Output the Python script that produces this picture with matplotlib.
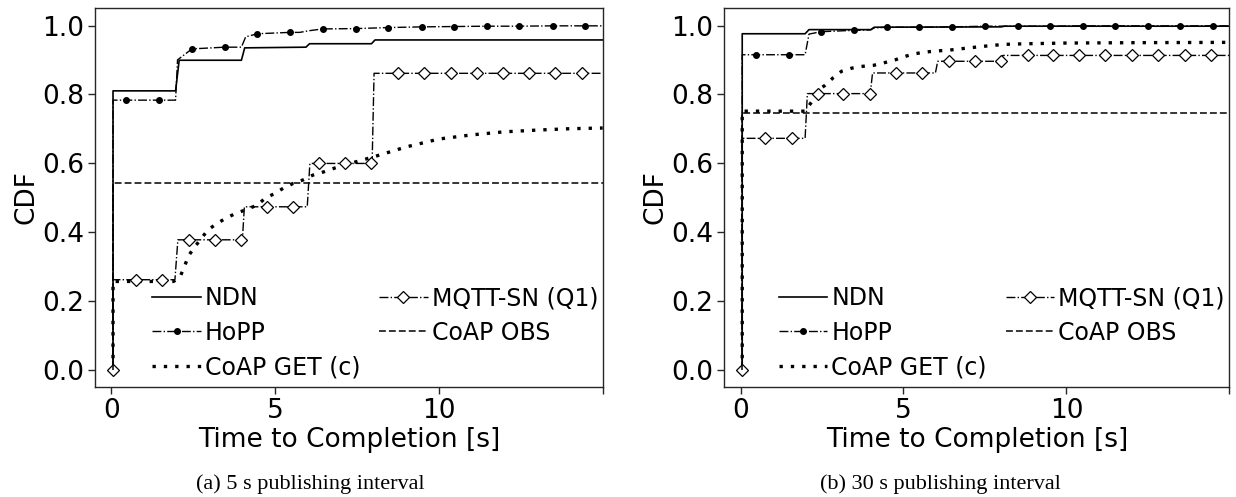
import matplotlib
matplotlib.use("Agg")
import matplotlib.pyplot as plt
from matplotlib.lines import Line2D

# ---- data (time in s, CDF) ----
# (a) 5 s publishing interval
ndn5_x = [0.05, 0.05, 1.96, 2.07, 3.97, 4.07, 5.94, 6.05, 7.94, 8.05, 15.0]
ndn5_y = [0.0, 0.81, 0.81, 0.899, 0.899, 0.935, 0.937, 0.947, 0.947, 0.958, 0.958]

hopp5_x = [0.05, 0.05, 0.46, 1.45, 1.96, 2.02, 2.46, 3.46, 3.97, 4.1, 4.46, 5.45,
           5.75, 6.05, 6.45, 7.46, 8.45, 9.47, 10.46, 11.46, 12.45, 13.47, 14.47, 15.0]
hopp5_y = [0.0, 0.783, 0.783, 0.783, 0.783, 0.90, 0.932, 0.937, 0.937, 0.967, 0.976, 0.980,
           0.980, 0.985, 0.990, 0.991, 0.994, 0.996, 0.997, 0.998, 0.998, 0.999, 0.999, 0.999]
hopp5_mx = [0.05, 0.46, 1.45, 2.46, 3.46, 4.46, 5.45, 6.45, 7.46, 8.45, 9.47, 10.46,
            11.46, 12.45, 13.47, 14.47]
hopp5_my = [0.0, 0.783, 0.783, 0.932, 0.937, 0.976, 0.980, 0.990, 0.991, 0.994, 0.996,
            0.997, 0.998, 0.998, 0.999, 0.999]

mqtt5_x = [0.05, 0.05, 1.94, 2.03, 4.0, 4.06, 5.98, 6.06, 7.96, 8.02, 15.0]
mqtt5_y = [0.0, 0.261, 0.261, 0.377, 0.377, 0.473, 0.473, 0.599, 0.599, 0.861, 0.861]
mqtt5_mx = [0.05, 0.76, 1.56, 2.36, 3.16, 3.97, 4.76, 5.55, 6.34, 7.13, 7.94, 8.74,
            9.55, 10.37, 11.15, 11.97, 12.76, 13.54, 14.36]
mqtt5_my = [0.0, 0.261, 0.261, 0.377, 0.377, 0.377, 0.473, 0.473, 0.599, 0.599, 0.599,
            0.861, 0.861, 0.861, 0.861, 0.861, 0.861, 0.861, 0.861]

obs5_x = [0.05, 0.05, 15.0]
obs5_y = [0.0, 0.541, 0.541]

get5_x = [0.05, 0.05, 1.9, 2.1, 2.25, 2.35, 2.55, 2.95, 3.2, 3.5, 3.8, 4.1, 4.45, 4.7,
          4.95, 5.25, 5.55, 5.85, 6.15, 6.5, 6.8, 7.1, 8.0, 9.0, 10.0, 11.0, 12.0,
          13.0, 14.0, 15.0]
get5_y = [0.0, 0.256, 0.256, 0.27, 0.304, 0.33, 0.357, 0.406, 0.423, 0.44, 0.454, 0.464,
          0.478, 0.498, 0.51, 0.527, 0.541, 0.551, 0.565, 0.575, 0.585, 0.594, 0.618,
          0.647, 0.67, 0.682, 0.691, 0.696, 0.70, 0.702]

# (b) 30 s publishing interval
ndn30_x = [0.05, 0.05, 1.98, 2.1, 4.0, 4.1, 8.0, 8.1, 15.0]
ndn30_y = [0.0, 0.976, 0.976, 0.988, 0.988, 0.995, 0.996, 0.998, 0.998]

hopp30_x = [0.05, 0.05, 0.46, 1.48, 1.98, 2.1, 2.47, 3.49, 3.98, 4.1, 4.48, 5.48, 6.5,
            7.5, 8.5, 9.5, 10.5, 11.5, 12.5, 13.5, 14.5, 15.0]
hopp30_y = [0.0, 0.915, 0.915, 0.915, 0.915, 0.975, 0.982, 0.986, 0.987, 0.993, 0.995,
            0.995, 0.996, 0.998, 0.998, 0.998, 0.999, 0.999, 0.999, 0.999, 0.999, 0.999]
hopp30_mx = [0.05, 0.46, 1.48, 2.47, 3.49, 4.48, 5.48, 6.5, 7.5, 8.5, 9.5, 10.5, 11.5,
             12.5, 13.5, 14.5]
hopp30_my = [0.0, 0.915, 0.915, 0.982, 0.986, 0.995, 0.995, 0.996, 0.998, 0.998, 0.998,
             0.999, 0.999, 0.999, 0.999, 0.999]

mqtt30_x = [0.05, 0.05, 1.98, 2.05, 3.98, 4.05, 5.98, 6.05, 7.98, 8.05, 15.0]
mqtt30_y = [0.0, 0.672, 0.672, 0.802, 0.802, 0.862, 0.862, 0.896, 0.896, 0.913, 0.913]
mqtt30_mx = [0.05, 0.75, 1.57, 2.38, 3.15, 3.97, 4.77, 5.57, 6.39, 7.19, 7.98, 8.81,
             9.59, 10.39, 11.2, 12.01, 12.81, 13.63, 14.43]
mqtt30_my = [0.0, 0.672, 0.672, 0.802, 0.802, 0.802, 0.862, 0.862, 0.896, 0.896, 0.896,
             0.913, 0.913, 0.913, 0.913, 0.913, 0.913, 0.913, 0.913]

obs30_x = [0.05, 0.05, 15.0]
obs30_y = [0.0, 0.746, 0.746]

get30_x = [0.05, 0.05, 1.98, 2.18, 2.38, 2.59, 2.84, 3.1, 3.41, 3.71, 4.07, 4.38, 4.74,
           5.04, 5.35, 5.7, 6.0, 6.36, 6.73, 7.4, 8.06, 8.77, 10.0, 12.0, 15.0]
get30_y = [0.0, 0.751, 0.751, 0.778, 0.812, 0.826, 0.848, 0.867, 0.876, 0.881, 0.884,
           0.891, 0.90, 0.91, 0.918, 0.923, 0.926, 0.928, 0.932, 0.939, 0.945, 0.947,
           0.949, 0.950, 0.951]

xticks = [0, 5, 10, 15]
xticklabels = ["0", "5", "10", ""]
yticks = [0.0, 0.2, 0.4, 0.6, 0.8, 1.0]
captions = ["(a) 5 s publishing interval", "(b) 30 s publishing interval"]

panels = [
    (ndn5_x, ndn5_y, hopp5_x, hopp5_y, hopp5_mx, hopp5_my, get5_x, get5_y,
     mqtt5_x, mqtt5_y, mqtt5_mx, mqtt5_my, obs5_x, obs5_y),
    (ndn30_x, ndn30_y, hopp30_x, hopp30_y, hopp30_mx, hopp30_my, get30_x, get30_y,
     mqtt30_x, mqtt30_y, mqtt30_mx, mqtt30_my, obs30_x, obs30_y),
]

# ---- styles ----
INK = "0.15"
st_ndn = dict(color="black", lw=1.2, ls="-")
st_hopp = dict(color="black", lw=1.0, ls="-.")
st_hopp_m = dict(marker="o", ms=4, mfc="black", mec="black")
st_get = dict(color="black", lw=2.4, ls=(0, (1, 2.4)))
st_mqtt = dict(color="black", lw=1.0, ls="-.")
st_mqtt_m = dict(marker="D", ms=5.8, mfc="white", mec="black", mew=0.9)
st_obs = dict(color="black", lw=1.1, ls=(0, (4.5, 2.0)))

fig = plt.figure(figsize=(12.36, 4.97), dpi=100)
W, H = 1236.0, 497.0
axes_px = [(95, 602.7), (724.3, 1229.3)]
cap_x = [310, 940]
top_px, bot_px = 8.3, 386.7

for i, data in enumerate(panels):
    (nx, ny, hx, hy, hmx, hmy, gx, gy, mx, my, mmx, mmy, ox, oy) = data
    x0, x1 = axes_px[i]
    ax = fig.add_axes([x0 / W, 1 - bot_px / H, (x1 - x0) / W, (bot_px - top_px) / H])

    ax.plot(nx, ny, **st_ndn)
    ax.plot(hx, hy, **st_hopp)
    ax.plot(hmx, hmy, ls="none", **st_hopp_m)
    ax.plot(gx, gy, solid_capstyle="butt", **st_get)
    ax.plot(mx, my, **st_mqtt)
    ax.plot(mmx, mmy, ls="none", **st_mqtt_m)
    ax.plot(ox, oy, **st_obs)

    ax.set_xlim(-0.5, 15)
    ax.set_ylim(-0.05, 1.05)
    ax.set_xticks(xticks)
    ax.set_xticklabels(xticklabels)
    ax.set_yticks(yticks)
    ax.tick_params(labelsize=19, length=5, width=1, color=INK, pad=3)
    for s in ax.spines.values():
        s.set_color(INK)
        s.set_linewidth(1.0)
    ax.set_xlabel("Time to Completion [s]", fontsize=19, labelpad=2)
    ax.set_ylabel("CDF", fontsize=19, labelpad=2)

    handles = [
        Line2D([], [], **st_ndn),
        Line2D([], [], **st_hopp, **st_hopp_m),
        Line2D([], [], **st_get),
        Line2D([], [], **st_mqtt, **st_mqtt_m),
        Line2D([], [], **st_obs),
    ]
    labels = ["NDN", "HoPP", "CoAP GET (c)", "MQTT-SN (Q1)", "CoAP OBS"]
    ax.legend(handles, labels, ncol=2, loc="lower right", bbox_to_anchor=(0.991, 0.02),
              frameon=False, fontsize=17, handlelength=2.05, handletextpad=0.17,
              columnspacing=0.8, labelspacing=0.44, borderpad=0, borderaxespad=0)

    fig.text(cap_x[i] / W, 1 - 484 / H, captions[i], ha="center", va="center",
             family="Liberation Serif", fontsize=16)

fig.savefig("out.png", dpi=100)
